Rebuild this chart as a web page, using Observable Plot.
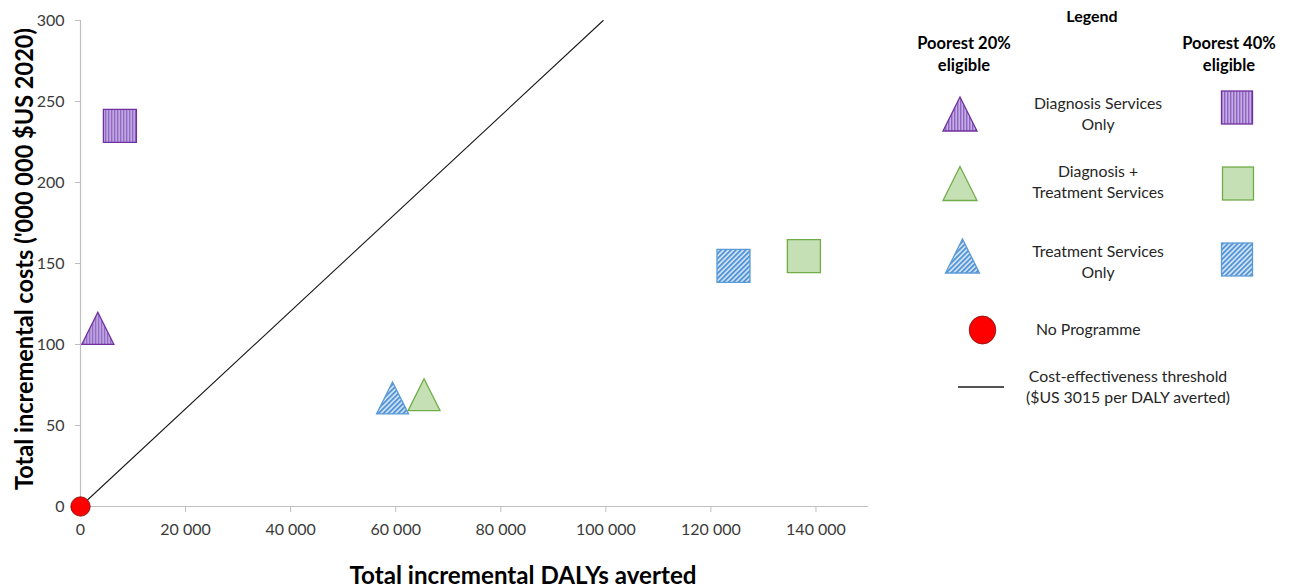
<!DOCTYPE html>
<html>
<head>
<meta charset="utf-8">
<script src="https://cdn.jsdelivr.net/npm/d3@7"></script>
<script src="https://cdn.jsdelivr.net/npm/@observablehq/plot@0.6"></script>
<style>
  body { margin: 0; background: #fff; }
  #chart { position: relative; width: 1296px; height: 587px; font-family: Lato, "Open Sans", sans-serif; }
  #chart svg { position: absolute; left: 0; top: 0; overflow: visible; }
</style>
</head>
<body>
<div id="chart"></div>
<script>
// Programme scenarios and their results (DALYs averted, costs in '000 000 $US 2020)
const scenarios = ["Diagnosis Services Only", "Diagnosis + Treatment Services", "Treatment Services Only"];
const scenarioLines = [["Diagnosis Services", "Only"], ["Diagnosis +", "Treatment Services"], ["Treatment Services", "Only"]];
const dalysPoorest20 = [3300, 65400, 59400];
const costsPoorest20 = [110, 69, 67];
const dalysPoorest40 = [7500, 137700, 124300];
const costsPoorest40 = [235, 154.5, 148.5];
const noProgramme = { dalys: 0, costs: 0 };
const thresholdPerDaly = 3015; // $US per DALY averted
const xTicks = [0, 20000, 40000, 60000, 80000, 100000, 120000, 140000];
const yTicks = [0, 50, 100, 150, 200, 250, 300];
const groupLabels = [["Poorest 20%", "eligible"], ["Poorest 40%", "eligible"]];

// scenario styling
const fills = ["url(#stripesV)", "#c5e0b4", "url(#stripesD)"];
const strokes = ["#7030a0", "#70ad47", "#5b9bd5"];

const rows = scenarios.flatMap((s, i) => [
  { scenario: s, group: 20, i, dalys: dalysPoorest20[i], costs: costsPoorest20[i] },
  { scenario: s, group: 40, i, dalys: dalysPoorest40[i], costs: costsPoorest40[i] }
]);

// marker shapes centred on their bounding box
const triangle = {
  draw(ctx, size) {
    const r = Math.sqrt(size / Math.PI);
    ctx.moveTo(0, -r); ctx.lineTo(r, r); ctx.lineTo(-r, r); ctx.closePath();
  }
};
const square = {
  draw(ctx, size) {
    const r = Math.sqrt(size / Math.PI);
    ctx.rect(-r, -r, 2 * r, 2 * r);
  }
};

// threshold line from the origin up to the top of the cost axis
const maxCost = d3.max(yTicks);
const thresholdLine = [
  { dalys: 0, costs: 0 },
  { dalys: maxCost * 1e6 / thresholdPerDaly, costs: maxCost }
];

const fmt = d => d3.format(",")(d).replace(/,/g, " ");

const scenarioMarks = scenarios.flatMap((s, i) => [
  Plot.dot(rows.filter(d => d.i === i && d.group === 20), {
    x: "dalys", y: "costs", symbol: triangle, r: 16,
    fill: fills[i], stroke: strokes[i], strokeWidth: 1.3
  }),
  Plot.dot(rows.filter(d => d.i === i && d.group === 40), {
    x: "dalys", y: "costs", symbol: square, r: 16.5,
    fill: fills[i], stroke: strokes[i], strokeWidth: 1.3
  })
]);

const plot = Plot.plot({
  width: 880,
  height: 587,
  marginLeft: 80,
  marginRight: 12,
  marginTop: 20,
  marginBottom: 81,
  style: { fontFamily: "Lato, 'Open Sans', sans-serif", fontSize: "16px", background: "transparent" },
  x: { domain: [0, 150000] },
  y: { domain: [0, 300] },
  marks: [
    Plot.ruleY([0], { stroke: "#bfbfbf", strokeWidth: 1.2 }),
    Plot.ruleX([0], { stroke: "#bfbfbf", strokeWidth: 1.2 }),
    Plot.axisX({ ticks: xTicks, tickFormat: fmt, tickSize: 6, tickPadding: 11, stroke: "#bfbfbf", fill: "#3a3a3a", label: null }),
    Plot.axisY({ ticks: yTicks, tickSize: 5, tickPadding: 11, stroke: "#bfbfbf", fill: "#3a3a3a", label: null }),
    Plot.line(thresholdLine, { x: "dalys", y: "costs", stroke: "#1a1a1a", strokeWidth: 1.1 }),
    ...scenarioMarks,
    Plot.dot([noProgramme], { x: "dalys", y: "costs", r: 9.7, fill: "#ff0000", stroke: "#7a1010", strokeWidth: 0.8 })
  ]
});

function addPatterns(svg) {
  const defs = d3.select(svg).insert("defs", ":first-child");
  const v = defs.append("pattern").attr("id", "stripesV")
    .attr("patternUnits", "userSpaceOnUse").attr("width", 3).attr("height", 3);
  v.append("rect").attr("width", 3).attr("height", 3).attr("fill", "#c4afe2");
  v.append("line").attr("x1", 0.75).attr("x2", 0.75).attr("y1", 0).attr("y2", 3)
    .attr("stroke", "#8a5cc2").attr("stroke-width", 1.3);
  const dg = defs.append("pattern").attr("id", "stripesD")
    .attr("patternUnits", "userSpaceOnUse").attr("width", 3.5).attr("height", 3.5)
    .attr("patternTransform", "rotate(45)");
  dg.append("rect").attr("width", 3.5).attr("height", 3.5).attr("fill", "#d6e6f6");
  dg.append("line").attr("x1", 1).attr("x2", 1).attr("y1", 0).attr("y2", 3.5)
    .attr("stroke", "#4a8fd6").attr("stroke-width", 1.8);
}
addPatterns(plot);

const chart = document.getElementById("chart");
chart.appendChild(plot);

// titles and legend
const svg = d3.select(chart).append("svg")
  .attr("width", 1296).attr("height", 587)
  .style("pointer-events", "none")
  .style("font-family", "Lato, 'Open Sans', sans-serif");

svg.append("text")
  .attr("transform", "translate(33,259) rotate(-90)")
  .attr("text-anchor", "middle")
  .attr("font-size", 25).attr("font-weight", "bold").attr("fill", "#000")
  .attr("textLength", 462).attr("lengthAdjust", "spacingAndGlyphs")
  .text("Total incremental costs ('000 000 $US 2020)");

svg.append("text")
  .attr("x", 523).attr("y", 584)
  .attr("text-anchor", "middle")
  .attr("font-size", 25).attr("font-weight", "bold").attr("fill", "#000")
  .attr("textLength", 347).attr("lengthAdjust", "spacingAndGlyphs")
  .text("Total incremental DALYs averted");

const lg = svg.append("g");
lg.append("text").attr("x", 1092).attr("y", 22).attr("text-anchor", "middle")
  .attr("font-size", 16).attr("font-weight", "bold").attr("fill", "#000").text("Legend");

const groupX = [964, 1229];
groupLabels.forEach((lines, g) => {
  lines.forEach((t, k) => {
    lg.append("text").attr("x", groupX[g]).attr("y", 48.5 + k * 22).attr("text-anchor", "middle")
      .attr("font-size", 16.5).attr("font-weight", "bold").attr("fill", "#000").text(t);
  });
});

const rowY = [114, 183.5, 256];
const triX = [960, 960, 962.5];
const sqX = [1237, 1238, 1237];
const sqY = [107.5, 183.5, 259.5];
const textBase = [108.5, 177, 256.5];
const tri = (cx, cy, hw, hh) => `M${cx},${cy - hh}L${cx + hw},${cy + hh}L${cx - hw},${cy + hh}Z`;
scenarios.forEach((s, i) => {
  lg.append("path").attr("d", tri(triX[i], rowY[i], 17, 17))
    .attr("fill", fills[i]).attr("stroke", strokes[i]).attr("stroke-width", 1.3);
  lg.append("rect").attr("x", sqX[i] - 15.5).attr("y", sqY[i] - 16.5).attr("width", 31).attr("height", 33)
    .attr("fill", fills[i]).attr("stroke", strokes[i]).attr("stroke-width", 1.3);
  scenarioLines[i].forEach((t, k) => {
    lg.append("text").attr("x", 1098).attr("y", textBase[i] + k * 21)
      .attr("text-anchor", "middle").attr("font-size", 15.8).attr("fill", "#262626").text(t);
  });
});

lg.append("ellipse").attr("cx", 982.5).attr("cy", 330).attr("rx", 13.3).attr("ry", 14)
  .attr("fill", "#ff0000").attr("stroke", "#7a1010").attr("stroke-width", 0.8);
lg.append("text").attr("x", 1036).attr("y", 334.5).attr("font-size", 15.8).attr("fill", "#262626").text("No Programme");

lg.append("line").attr("x1", 958).attr("x2", 1004).attr("y1", 387).attr("y2", 387)
  .attr("stroke", "#1a1a1a").attr("stroke-width", 1.3);
["Cost-effectiveness threshold", "($US " + thresholdPerDaly + " per DALY averted)"].forEach((t, k) => {
  lg.append("text").attr("x", 1128).attr("y", 382 + k * 21).attr("text-anchor", "middle")
    .attr("font-size", 15.8).attr("fill", "#262626").text(t);
});

addPatterns(svg.node());
</script>
</body>
</html>
